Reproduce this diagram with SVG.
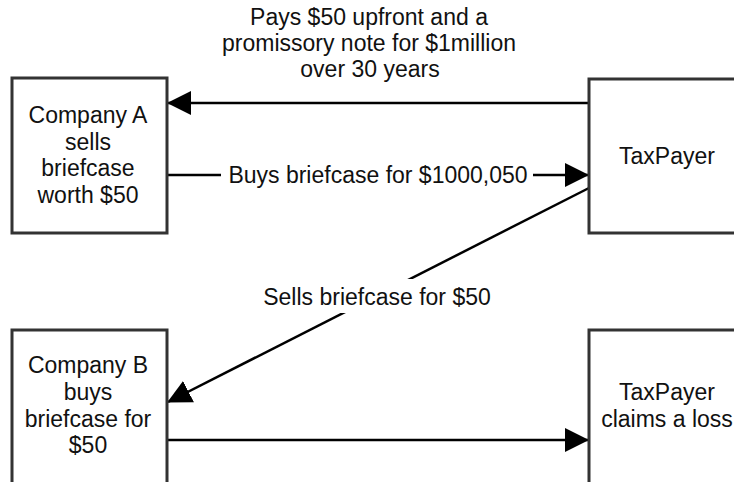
<svg xmlns="http://www.w3.org/2000/svg" width="734" height="482" viewBox="0 0 734 482">
  <style>
    .box { fill: #ffffff; stroke: #333333; stroke-width: 3; }
    .lbl { font-family: "Liberation Sans", Arial, Helvetica, sans-serif; font-size: 23px; fill: #111111; text-anchor: middle; }
    .edge { fill: none; stroke: #000000; stroke-width: 2.5; }
    .bg { fill: #ffffff; }
  </style>
  <defs>
    <marker id="arrow" markerUnits="userSpaceOnUse" markerWidth="24" markerHeight="26" refX="23" refY="13" orient="auto">
      <path d="M0,1 L24,13 L0,25 Z" fill="#000000"/>
    </marker>
  </defs>

  <!-- connectors -->
  <g id="connectors">
    <!-- TaxPayer pays Company A -->
    <path class="edge" d="M589,103 L168,103" marker-end="url(#arrow)"/>
    <text class="lbl" x="369" y="25">Pays $50 upfront and a</text>
    <text class="lbl" x="369" y="51">promissory note for $1million</text>
    <text class="lbl" x="370" y="77">over 30 years</text>

    <!-- Company A sells to TaxPayer -->
    <path class="edge" d="M167,175 L588,175" marker-end="url(#arrow)"/>
    <rect class="bg" x="221" y="162" width="312" height="26"/>
    <text class="lbl" x="378" y="183">Buys briefcase for $1000,050</text>

    <!-- TaxPayer sells to Company B -->
    <path class="edge" d="M589,188 L168,402" marker-end="url(#arrow)"/>
    <rect class="bg" x="259" y="279" width="237" height="34"/>
    <text class="lbl" x="377" y="305">Sells briefcase for $50</text>

    <!-- Company B to loss -->
    <path class="edge" d="M167,440 L588,440" marker-end="url(#arrow)"/>
  </g>

  <!-- nodes -->
  <g id="company-a">
    <rect class="box" x="12" y="78" width="155" height="155"/>
    <text class="lbl" x="88" y="123">Company A</text>
    <text class="lbl" x="88" y="150">sells</text>
    <text class="lbl" x="88" y="176">briefcase</text>
    <text class="lbl" x="88" y="203">worth $50</text>
  </g>

  <g id="taxpayer">
    <rect class="box" x="589" y="79" width="156" height="154"/>
    <text class="lbl" x="667" y="164">TaxPayer</text>
  </g>

  <g id="company-b">
    <rect class="box" x="12" y="330" width="155" height="160"/>
    <text class="lbl" x="88" y="373">Company B</text>
    <text class="lbl" x="88" y="400">buys</text>
    <text class="lbl" x="88" y="427">briefcase for</text>
    <text class="lbl" x="88" y="453">$50</text>
  </g>

  <g id="taxpayer-loss">
    <rect class="box" x="589" y="330" width="156" height="160"/>
    <text class="lbl" x="667" y="400">TaxPayer</text>
    <text class="lbl" x="667" y="427">claims a loss</text>
  </g>
</svg>
